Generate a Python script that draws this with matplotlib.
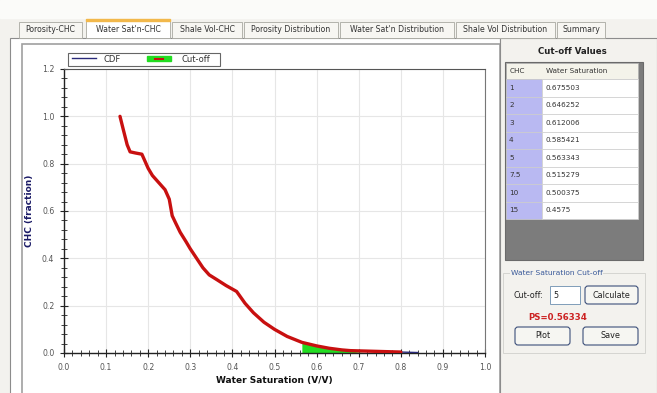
import matplotlib
matplotlib.use('Agg')
import matplotlib.pyplot as plt
from matplotlib.patches import Rectangle, FancyBboxPatch
from matplotlib.ticker import MultipleLocator

# curve data
sw = [0.133, 0.14, 0.15, 0.157, 0.17, 0.185, 0.19, 0.20, 0.21, 0.225, 0.24, 0.25,
      0.257, 0.265, 0.276, 0.29, 0.30, 0.315, 0.33, 0.345, 0.363, 0.385, 0.41, 0.43,
      0.45, 0.475, 0.50, 0.53, 0.565, 0.60, 0.63, 0.66, 0.68, 0.72, 0.76, 0.80, 0.84]
chc = [1.0, 0.95, 0.88, 0.85, 0.845, 0.84, 0.82, 0.78, 0.75, 0.72, 0.69, 0.65,
       0.58, 0.55, 0.51, 0.47, 0.44, 0.40, 0.36, 0.33, 0.31, 0.285, 0.26, 0.21,
       0.17, 0.13, 0.10, 0.07, 0.045, 0.03, 0.02, 0.013, 0.01, 0.008, 0.006, 0.004, 0.002]
cut_lo, cut_hi = 0.565, 0.68

tabs = ['Porosity-CHC', "Water Sat'n-CHC", 'Shale Vol-CHC', 'Porosity Distribution',
        "Water Sat'n Distribution", 'Shale Vol Distribution', 'Summary']
tab_x = [19, 86, 172, 244, 340, 456, 557]
tab_w = [63, 84, 70, 94, 114, 99, 48]

chc_levels = ['1', '2', '3', '4', '5', '7.5', '10', '15']
sw_cutoffs = ['0.675503', '0.646252', '0.612006', '0.585421', '0.563343',
              '0.515279', '0.500375', '0.4575']

W, H = 657, 393
fig = plt.figure(figsize=(W / 100, H / 100), dpi=100)
fig.patch.set_facecolor('#f3f2ee')

# background "window" drawn in pixel coordinates
bg = fig.add_axes([0, 0, 1, 1])
bg.set_xlim(0, W)
bg.set_ylim(H, 0)
bg.axis('off')

bg.add_patch(Rectangle((0, 0), W, 18, color='#fbfbf9'))
bg.add_patch(Rectangle((10, 38), 490, 360, facecolor='white', edgecolor='#8c8c8c', lw=0.8))
bg.add_patch(Rectangle((22, 44), 478, 352, facecolor='white', edgecolor='#a0a0a0', lw=1.2))
bg.add_patch(Rectangle((500, 38), 157, 360, facecolor='#f3f2ee', edgecolor='#8c8c8c', lw=0.8))

for i, (t, x, w) in enumerate(zip(tabs, tab_x, tab_w)):
    sel = i == 1
    y0 = 19 if sel else 22
    bg.add_patch(Rectangle((x, y0), w, 38 - y0, facecolor='white' if sel else '#f7f6f2',
                           edgecolor='#a8a8a0', lw=0.6))
    if sel:
        bg.add_patch(Rectangle((x, y0), w, 2, color='#f2b84b'))
    bg.text(x + w / 2, 30, t, ha='center', va='center', fontsize=5.6, color='#333333')

# right panel: cut-off table
bg.text(572, 52, 'Cut-off Values', ha='center', va='center', fontsize=6.2,
        fontweight='bold', color='#222222')
bg.add_patch(Rectangle((505, 62), 138, 198, facecolor='#7c7c7c', edgecolor='#6a6a6a', lw=0.8))
bg.add_patch(Rectangle((506, 63), 132, 16, facecolor='#f4f3ea', edgecolor='#b0b0b0', lw=0.5))
bg.text(510, 71, 'CHC', va='center', fontsize=5.2, color='#333333')
bg.text(546, 71, 'Water Saturation', va='center', fontsize=5.2, color='#333333')
row_h = 17.5
for i, (lv, v) in enumerate(zip(chc_levels, sw_cutoffs)):
    y0 = 79 + i * row_h
    bg.add_patch(Rectangle((506, y0), 36, row_h, facecolor='#b9b9f2', edgecolor='#d0d0d0', lw=0.5))
    bg.add_patch(Rectangle((542, y0), 96, row_h, facecolor='white', edgecolor='#d0d0d0', lw=0.5))
    bg.text(509, y0 + row_h / 2, lv, va='center', fontsize=5.2, color='#333333')
    bg.text(546, y0 + row_h / 2, v, va='center', fontsize=5.2, color='#333333')

bg.add_patch(Rectangle((503, 273), 142, 80, facecolor='none', edgecolor='#d0d0cc', lw=0.6))
bg.text(511, 273, 'Water Saturation Cut-off', va='center', fontsize=5.4, color='#3a5a9a',
        bbox=dict(facecolor='#f3f2ee', edgecolor='none', pad=0.5))
bg.text(513, 295, 'Cut-off:', va='center', fontsize=5.8, color='#222222')
bg.add_patch(Rectangle((550, 286), 30, 18, facecolor='white', edgecolor='#7f9db9', lw=0.7))
bg.text(553, 295, '5', va='center', fontsize=5.8, color='#222222')
for bx, bw, lab in [(585, 53, 'Calculate'), (515, 55, 'Plot'), (583, 55, 'Save')]:
    by = 286 if lab == 'Calculate' else 327
    bg.add_patch(FancyBboxPatch((bx, by), bw, 18, boxstyle='round,pad=0,rounding_size=3',
                                facecolor='#f6f6f2', edgecolor='#3c4f7a', lw=0.8))
    bg.text(bx + bw / 2, by + 9, lab, ha='center', va='center', fontsize=5.8, color='#222222')
bg.text(558, 317, 'PS=0.56334', ha='center', va='center', fontsize=6.2,
        fontweight='bold', color='#cc2222')

# the chart itself
ax = fig.add_axes([64 / W, (H - 353) / H, (485 - 64) / W, (353 - 69) / H])
ax.set_facecolor('white')
ax.set_xlim(0, 1.0)
ax.set_ylim(0, 1.2)

ax.plot(sw, chc, color='#2a2a7a', lw=1.0, zorder=3)
ax.plot(sw[:-1], chc[:-1], color='#c81010', lw=2.4, solid_capstyle='round', zorder=4)
ax.fill_between(sw, chc, 0, where=[cut_lo <= s <= cut_hi for s in sw],
                color='#22dd22', lw=0, zorder=2, interpolate=True)

ax.xaxis.set_major_locator(MultipleLocator(0.1))
ax.xaxis.set_minor_locator(MultipleLocator(0.02))
ax.yaxis.set_major_locator(MultipleLocator(0.2))
ax.yaxis.set_minor_locator(MultipleLocator(0.04))
ax.grid(True, which='major', color='#e6e6e6', lw=0.8, zorder=0)
ax.tick_params(which='major', direction='inout', length=6, width=0.8, color='#222222',
               labelsize=5.6, labelcolor='#555555', pad=4)
ax.tick_params(which='minor', direction='inout', length=4, width=0.6, color='#222222')
ax.tick_params(top=False, right=False)
ax.set_xticklabels([f'{v:.1f}' for v in ax.get_xticks()])
ax.set_yticklabels([f'{v:.1f}' for v in ax.get_yticks()])
for s in ['left', 'bottom']:
    ax.spines[s].set_color('#222222')
    ax.spines[s].set_linewidth(1.0)
ax.spines['top'].set_color('#555555')
ax.spines['right'].set_color('#777777')
ax.spines['top'].set_linewidth(0.8)
ax.spines['right'].set_linewidth(0.8)

ax.set_xlabel('Water Saturation (V/V)', fontsize=6.5, fontweight='bold', color='#111111', labelpad=3)
ax.set_ylabel('CHC (fraction)', fontsize=6.5, fontweight='bold', color='#1a1a66', labelpad=6)

# legend box above the plot
bg.add_patch(Rectangle((68, 53), 152, 13, facecolor='white', edgecolor='#666666', lw=0.8, zorder=5))
bg.plot([72, 96], [58, 58], color='#2a2a7a', lw=1.0, zorder=6)
bg.text(104, 59.5, 'CDF', va='center', fontsize=6, color='#333333', zorder=6)
bg.add_patch(Rectangle((147, 56), 24, 5, color='#22dd22', zorder=6))
bg.plot([155, 163], [58.5, 58.5], color='#c81010', lw=1.5, zorder=7)
bg.text(181, 59.5, 'Cut-off', va='center', fontsize=6, color='#333333', zorder=6)

fig.savefig('out.png', dpi=100)
